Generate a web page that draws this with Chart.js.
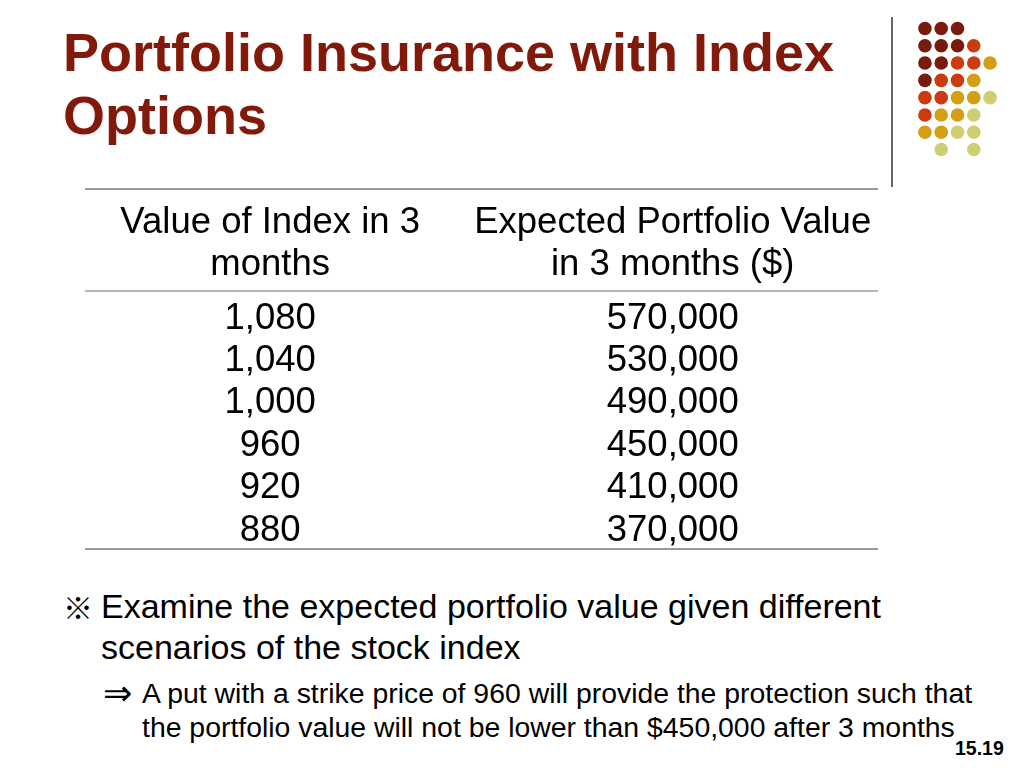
<!DOCTYPE html>
<html>
<head>
<meta charset="utf-8">
<script src="https://cdn.jsdelivr.net/npm/chart.js@4.4.0/dist/chart.umd.min.js"></script>
<style>
  body { margin: 0; background: #fff; font-family: "Liberation Sans", Arial, sans-serif; }
  #slide { position: relative; width: 1024px; height: 768px; overflow: hidden; }
  #title { position: absolute; left: 63px; top: 21px; font-size: 54px; line-height: 63px; font-weight: bold; color: #811a0b; }
  #vline { position: absolute; left: 891px; top: 17px; width: 2px; height: 170px; background: #666; }
  #dots { position: absolute; left: 910px; top: 13px; }
  #table { position: absolute; left: 85px; top: 188px; }
  .b1 { position: absolute; left: 101px; top: 586px; width: 900px; font-size: 34px; line-height: 41px; color: #000; }
  .b1 .mark { position: absolute; left: -38px; top: 0; font-family: "Noto Sans CJK JP", "DejaVu Sans", sans-serif; font-size: 30px; }
  .b2 { position: absolute; left: 142px; top: 676px; width: 880px; font-size: 28.4px; line-height: 34px; color: #000; }
  .b2 .mark { position: absolute; left: -39px; top: 0; font-family: "DejaVu Sans", sans-serif; font-size: 35px; font-weight: 300; }
  #page { position: absolute; left: 955px; top: 738px; font-size: 19.5px; line-height: 20px; font-weight: bold; }
</style>
</head>
<body>
<div id="slide">
  <div id="title">Portfolio Insurance with Index<br>Options</div>
  <div id="vline"></div>
  <canvas id="dots" width="95" height="152"></canvas>
  <canvas id="table" width="793" height="365"></canvas>
  <div class="b1"><span class="mark">※</span>Examine the expected portfolio value given different<br>scenarios of the stock index</div>
  <div class="b2"><span class="mark">⇒</span>A put with a strike price of 960 will provide the protection such that<br>the portfolio value will not be lower than $450,000 after 3 months</div>
  <div id="page">15.19</div>
</div>
<script>
// table data
var headers = [['Value of Index in 3', 'months'], ['Expected Portfolio Value', 'in 3 months ($)']];
var indexValues = [1080, 1040, 1000, 960, 920, 880];
var portfolioValues = [570000, 530000, 490000, 450000, 410000, 370000];

// decoration dots, one string per row (D dark, O orange, G gold, L light, . empty)
var dotRows = ['DDD', 'DDDO', 'DDOOG', 'DOOG', 'OOGGL', 'OGGL', 'GGLL', '.L.L'];
var dotColors = { D: '#7a1a0d', O: '#cc3a10', G: '#d49f14', L: '#cfcf72' };

var FONT = 'Liberation Sans';

// cell text drawn at each point
var cellText = {
  id: 'cellText',
  afterDatasetsDraw: function(chart) {
    var ctx = chart.ctx;
    ctx.save();
    ctx.font = '36.5px "' + FONT + '"';
    ctx.fillStyle = '#000';
    ctx.textAlign = 'center';
    ctx.textBaseline = 'middle';
    chart.data.datasets.forEach(function(ds, i) {
      chart.getDatasetMeta(i).data.forEach(function(pt, j) {
        ctx.fillText(ds.data[j].v.toLocaleString('en-US'), pt.x, pt.y);
      });
    });
    // top rule of the table
    var xs = chart.scales.x;
    ctx.strokeStyle = '#999';
    ctx.lineWidth = 2;
    ctx.beginPath();
    ctx.moveTo(xs.left, xs.top + 1);
    ctx.lineTo(xs.right, xs.top + 1);
    ctx.stroke();
    ctx.restore();
  }
};

new Chart(document.getElementById('table'), {
  type: 'scatter',
  data: {
    datasets: [
      { data: indexValues.map(function(v, i) { return { x: 0, y: i, v: v }; }), pointRadius: 0 },
      { data: portfolioValues.map(function(v, i) { return { x: 1, y: i, v: v }; }), pointRadius: 0 }
    ]
  },
  options: {
    responsive: false,
    animation: false,
    layout: { padding: { left: 0, right: 0, top: 0, bottom: 4 } },
    plugins: { legend: { display: false }, tooltip: { enabled: false } },
    scales: {
      x: {
        type: 'linear',
        position: 'top',
        min: -0.46,
        max: 1.51,
        afterBuildTicks: function(s) { s.ticks = [{ value: 0 }, { value: 1 }]; },
        afterFit: function(s) { s.height = 103; },
        grid: { display: false },
        border: { display: true, color: '#b5b5b5', width: 2 },
        ticks: {
          autoSkip: false,
          maxRotation: 0,
          padding: -2.5,
          color: '#000',
          font: { family: FONT, size: 36.5, lineHeight: 42 / 36.5 },
          callback: function(value) { return headers[value]; }
        }
      },
      y: {
        type: 'linear',
        reverse: true,
        min: -0.649,
        max: 5.436,
        afterBuildTicks: function(s) { s.ticks = [{ value: s.max }]; },
        afterFit: function(s) { s.width = 0; },
        grid: { color: '#999', lineWidth: 2, drawTicks: false },
        border: { display: false },
        ticks: { display: false }
      }
    }
  },
  plugins: [cellText]
});

// decoration dots
var dotPoints = [], dotFill = [];
dotRows.forEach(function(row, r) {
  row.split('').forEach(function(c, col) {
    if (c !== '.') {
      dotPoints.push({ x: col, y: r });
      dotFill.push(dotColors[c]);
    }
  });
});

new Chart(document.getElementById('dots'), {
  type: 'scatter',
  data: {
    datasets: [{ data: dotPoints, backgroundColor: dotFill, borderWidth: 0, pointRadius: 6.8 }]
  },
  options: {
    responsive: false,
    animation: false,
    layout: { padding: 0 },
    plugins: { legend: { display: false }, tooltip: { enabled: false } },
    scales: {
      x: { type: 'linear', display: false, min: -0.5, max: 4.5 },
      y: { type: 'linear', display: false, reverse: true, min: -0.5, max: 7.5 }
    }
  }
});
</script>
</body>
</html>
